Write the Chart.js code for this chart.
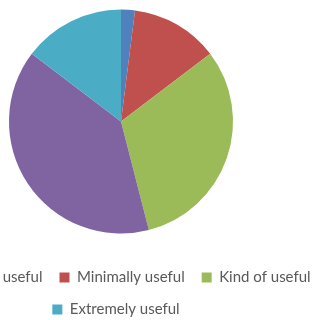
<!DOCTYPE html>
<html>
<head>
<meta charset="utf-8">
<script src="https://cdn.jsdelivr.net/npm/chart.js@4.4.1/dist/chart.umd.min.js"></script>
<style>
  html, body { margin: 0; width: 320px; height: 320px; overflow: hidden; background: #fff; }
  /* canvas is wider than the window so the legend runs off both sides, like the cropped original */
  #grafica { position: absolute; left: -124px; top: -10px; }
</style>
</head>
<body>
<canvas id="grafica" width="480" height="337"></canvas>
<script>
const labels = ['Not at all useful', 'Minimally useful', 'Kind of useful', 'Very useful', 'Extremely useful'];
const responses = [3, 19, 47, 59, 22];
const colors = ['#4F81BD', '#C0504D', '#9BBB59', '#8064A2', '#4BACC6'];
// the purple entry is not visible in the original legend
const notInLegend = ['Very useful'];

// the pie sits a little right of the legend centre in the original
const nudgePie = {
    id: 'nudgePie',
    afterLayout(chart) {
        chart.chartArea.left += 10;
    }
};

window.onload = function () {
    const graph = document.querySelector('#grafica');

    const data = {
        labels: labels,
        datasets: [{
            label: 'Responses',
            data: responses,
            backgroundColor: colors,
            borderWidth: 0
        }]
    };

    const config = {
        type: 'pie',
        data: data,
        options: {
            responsive: false,
            animation: false,
            radius: 112,
            layout: { padding: 0 },
            plugins: {
                tooltip: { enabled: false },
                legend: {
                    position: 'bottom',
                    labels: {
                        boxWidth: 10,
                        boxHeight: 10,
                        padding: 17,
                        color: '#595959',
                        font: { family: 'Lato', size: 15 },
                        filter: (item) => !notInLegend.includes(item.text)
                    }
                }
            }
        },
        plugins: [nudgePie]
    };

    new Chart(graph, config);
};
</script>
</body>
</html>
